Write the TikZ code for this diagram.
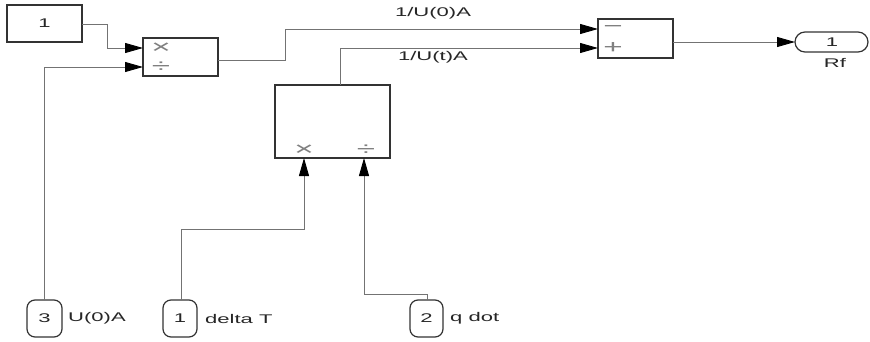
\documentclass[tikz,border=0pt]{standalone}
\usepackage{fontspec}
\setmainfont{Liberation Sans}[FakeStretch=1.75]
\usetikzlibrary{arrows.meta}
\tikzset{
  blk/.style={draw=black!80, line width=1.4pt, fill=white},
  wire/.style={draw=black!55, line width=0.9pt},
  arr/.style={wire, -{Triangle[length=18pt,width=10pt,color=black]}},
  port/.style={draw=black!80, line width=1.2pt, rounded corners=8pt, fill=white},
  lbl/.style={font=\fontsize{12.6}{14}\selectfont, text=black!85, inner sep=0pt},
  sym/.style={font=\fontsize{19}{20}\selectfont, text=black!50, inner sep=0pt},
}
\begin{document}
\begin{tikzpicture}[x=1pt,y=-1pt]
\useasboundingbox (0,0) rectangle (870,342);
% blocks
\draw[blk] (7,5) rectangle (82,42);
\node[lbl] (c1) at (44.5,23.5) {1};
\coordinate (c1o) at (82,24);
\draw[blk] (143,38) rectangle (218,76);
\node[sym] (p1x) at (161,48) {×};
\node[sym] (p1d) at (161,67) {÷};
\coordinate (p1i1) at (143,48);
\coordinate (p1i2) at (143,67);
\coordinate (p1o) at (218,60);
\draw[blk] (275,85) rectangle (390,158);
\node[sym] (p2x) at (304,150) {×};
\node[sym] (p2d) at (366,150) {÷};
\coordinate (p2i1) at (304,158);
\coordinate (p2i2) at (364,158);
\coordinate (p2o) at (340,85);
\draw[blk] (598,19) rectangle (673,58);
\node[sym] (sm) at (613,29) {−};
\node[sym] (sp) at (613,48) {+};
\coordinate (si1) at (598,29);
\coordinate (si2) at (598,48);
\coordinate (so) at (673,42);
% outport
\draw[port, rounded corners=10pt] (795,32) rectangle (868,52);
\node[lbl] (out1) at (832,42) {1};
\node[lbl] (rf) at (835,63) {Rf};
\coordinate (oi) at (795,42);
% inports
\draw[port] (27,300) rectangle (62,337);
\node[lbl] (in3) at (44.5,318.5) {3};
\node[lbl, anchor=west] (in3l) at (68,318.5) {U(0)A};
\draw[port] (163,300) rectangle (197,337);
\node[lbl] (in1) at (180,318.5) {1};
\node[lbl, anchor=west] (in1l) at (205,318.5) {delta T};
\draw[port] (410,300) rectangle (443,337);
\node[lbl] (in2) at (426.5,318.5) {2};
\node[lbl, anchor=west] (in2l) at (450,318.5) {q dot};
\coordinate (in3o) at (44,300);
\coordinate (in1o) at (181,300);
\coordinate (in2o) at (427,300);
% wire labels
\node[lbl] (w1) at (433,13) {1/U(0)A};
\node[lbl] (w2) at (433,57) {1/U(t)A};
% wires
\draw[arr] (c1o) -| (107,48) -- (p1i1);
\draw[arr] (in3o) |- (p1i2);
\draw[arr] (p1o) -| (285,29) -- (si1);
\draw[arr] (p2o) |- (si2);
\draw[arr] (so) -- (oi);
\draw[arr] (in1o) |- (304,229) -- (p2i1);
\draw[arr] (in2o) |- (364,294) -- (p2i2);
\end{tikzpicture}
\end{document}
